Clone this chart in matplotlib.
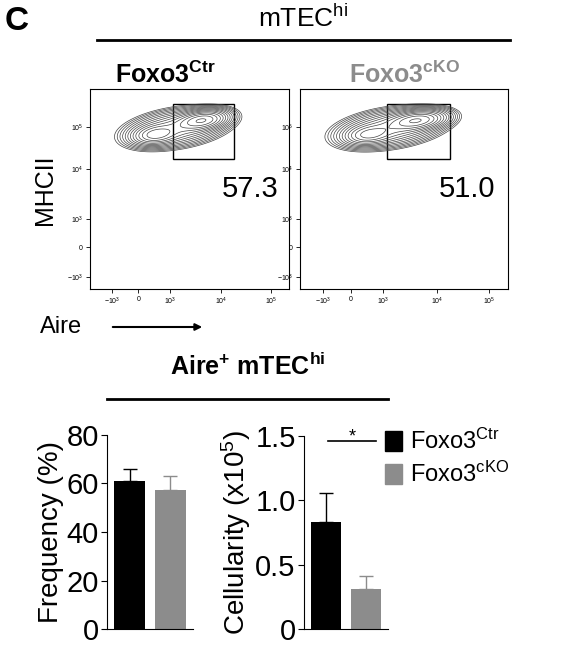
import numpy as np
import matplotlib
matplotlib.use("Agg")
import matplotlib.pyplot as plt
from matplotlib.patches import Rectangle

plt.rcParams['font.family'] = ['Liberation Sans', 'DejaVu Sans']
plt.rcParams['mathtext.fontset'] = 'custom'
plt.rcParams['mathtext.rm'] = 'Liberation Sans'
plt.rcParams['mathtext.it'] = 'Liberation Sans'
plt.rcParams['mathtext.bf'] = 'Liberation Sans:bold'

groups = [r"Foxo3$^{\mathrm{Ctr}}$", r"Foxo3$^{\mathrm{cKO}}$"]
groups_bold = [r"Foxo3$^{\mathbf{Ctr}}$", r"Foxo3$^{\mathbf{cKO}}$"]
colors = ["black", "#8c8c8c"]
freq = [61.0, 57.5]
freq_err = [5.0, 5.5]
cell = [0.83, 0.31]
cell_err = [0.23, 0.10]
gate_pct = ["57.3", "51.0"]
# flow density modes: (x, y, sx, sy, rho, weight) in display units
modes = [
    [(2.4, 4.85, 0.5, 0.2, 0.3, 1.0), (0.6, 4.3, 0.45, 0.2, 0.2, 0.55), (1.4, 4.55, 1.0, 0.38, 0.35, 0.5)],
    [(2.4, 4.85, 0.55, 0.2, 0.3, 1.0), (0.6, 4.3, 0.45, 0.2, 0.2, 0.5), (1.4, 4.55, 1.0, 0.38, 0.35, 0.55)],
]

W, H = 588, 645
fig = plt.figure(figsize=(W/100, H/100), dpi=100)

def ax_px(x0, y0, x1, y1):
    return fig.add_axes([x0/W, 1-y1/H, (x1-x0)/W, (y1-y0)/H])

def px(x, y):
    return x/W, 1-y/H

fig.text(*px(5, 22), "C", fontsize=24, fontweight='bold', va='center')
fig.text(*px(303, 18), r"mTEC$^{\mathrm{hi}}$", fontsize=19, ha='center', va='center')
fig.add_artist(plt.Line2D([97/W, 510/W], [1-40/H]*2, color='black', lw=2))
fig.text(*px(165, 75), groups_bold[0], fontsize=18, fontweight='bold', ha='center', va='center', color=colors[0])
fig.text(*px(405, 75), groups_bold[1], fontsize=18, fontweight='bold', ha='center', va='center', color=colors[1])

xt = [-0.98, 0.0, 1.17, 3.07, 4.93]
xtl = ["$-10^3$", "0", "$10^3$", "$10^4$", "$10^5$"]
yt = [-0.96, 0.15, 1.19, 3.04, 4.6]
ytl = ["$-10^3$", "0", "$10^3$", "$10^4$", "$10^5$"]
xs = np.linspace(-1.8, 5.6, 300)
ys = np.linspace(-1.4, 6.0, 300)
X, Y = np.meshgrid(xs, ys)
for i, (x0, x1) in enumerate([(90, 289), (300, 508)]):
    ax = ax_px(x0, 89, x1, 289)
    Z = np.zeros_like(X)
    for (mx, my, sx, sy, r, w) in modes[i]:
        dx = (X-mx)/sx; dy = (Y-my)/sy
        Z += w*np.exp(-(dx*dx - 2*r*dx*dy + dy*dy)/(2*(1-r*r)))
    lev = Z.max()*np.geomspace(0.03, 0.95, 14)
    ax.contour(X, Y, Z, levels=lev, colors='#444444', linewidths=0.5)
    ax.add_patch(Rectangle((1.29, 3.41), 2.26, 2.03, fill=False, lw=1, ec='black'))
    ax.text(4.15, 2.3, gate_pct[i], fontsize=21, ha='center', va='center')
    ax.set_xlim(-1.8, 5.6); ax.set_ylim(-1.4, 6.0)
    ax.set_xticks(xt); ax.set_xticklabels(xtl, fontsize=5)
    ax.set_yticks(yt); ax.set_yticklabels(ytl, fontsize=5)
    ax.tick_params(length=3, width=0.6, pad=2)
    for s in ax.spines.values():
        s.set_linewidth(0.8)
fig.text(*px(45, 190), "MHCII", fontsize=18, rotation=90, ha='center', va='center')
fig.text(*px(40, 327), "Aire", fontsize=17, ha='left', va='center')
fig.add_artist(plt.Annotation("", xy=(205/W, 1-327/H), xytext=(110/W, 1-327/H),
                              xycoords='figure fraction', textcoords='figure fraction',
                              arrowprops=dict(arrowstyle='-|>', color='black', lw=1.5)))

fig.text(*px(248, 366), r"Aire$^{\mathbf{+}}$ mTEC$^{\mathbf{hi}}$", fontsize=18, fontweight='bold', ha='center', va='center')
fig.add_artist(plt.Line2D([107/W, 388/W], [1-399/H]*2, color='black', lw=2))

def bars(ax, vals, errs, ymax, ticks, ticklabels, ylabel):
    pos = [0, 1]
    ax.bar(pos, vals, width=0.75, color=colors)
    for p, v, e in zip(pos, vals, errs):
        ax.errorbar(p, v, yerr=[[0], [e]], color='black' if p == 0 else colors[1], capsize=5, lw=1)
    ax.set_xlim(-0.55, 1.55); ax.set_ylim(0, ymax)
    ax.set_yticks(ticks); ax.set_yticklabels(ticklabels, fontsize=21)
    ax.set_xticks([])
    ax.spines['top'].set_visible(False); ax.spines['right'].set_visible(False)
    ax.tick_params(axis='y', length=4, pad=2)
    ax.set_ylabel(ylabel, fontsize=20, labelpad=2)

a1 = ax_px(107, 435, 193, 629)
bars(a1, freq, freq_err, 80, [0, 20, 40, 60, 80], ["0", "20", "40", "60", "80"], "Frequency (%)")
a2 = ax_px(304, 436, 388, 629)
bars(a2, cell, cell_err, 1.5, [0, 0.5, 1.0, 1.5], ["0", "0.5", "1.0", "1.5"], r"Cellularity (x10$^{\mathrm{5}}$)")
a2.plot([0.05, 1.25], [1.46, 1.46], color='black', lw=1.2, clip_on=False)
a2.text(0.65, 1.49, "*", fontsize=13, ha='center', va='center')

for k, (g, c) in enumerate(zip(groups, colors)):
    y = 441 + k*33
    fig.add_artist(Rectangle((385/W, 1-(y+10)/H), 17/W, 20/H, color=c))
    fig.text(*px(410, y), g, fontsize=17, ha='left', va='center')

fig.savefig("out.png", dpi=100)
